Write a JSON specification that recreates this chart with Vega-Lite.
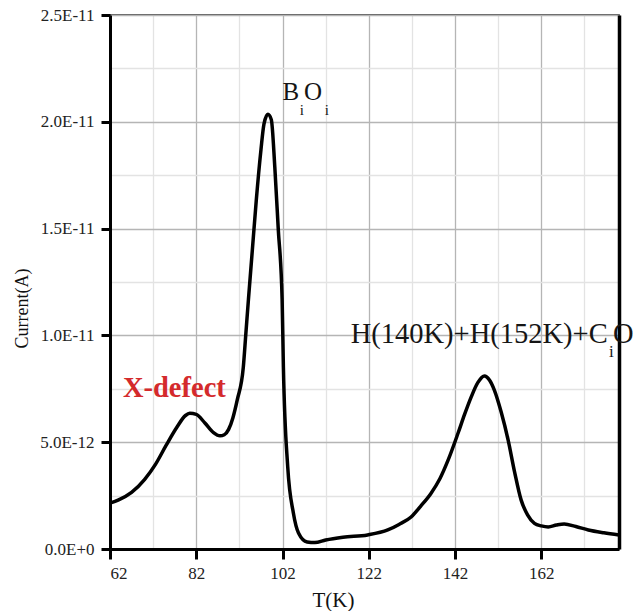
{
  "$schema": "https://vega.github.io/schema/vega-lite/v6.json",
  "width": 509,
  "height": 534,
  "autosize": {"type": "none"},
  "padding": {"left": 110, "top": 15, "right": 14, "bottom": 62},
  "background": "white",
  "config": {
    "view": {"stroke": "#222", "strokeWidth": 1.6},
    "font": "Liberation Serif",
    "axis": {
      "labelFont": "Liberation Serif",
      "titleFont": "Liberation Serif",
      "labelColor": "#222",
      "titleColor": "#111",
      "titleFontWeight": "normal",
      "domainColor": "#000",
      "domainWidth": 3,
      "tickColor": "#000",
      "tickWidth": 3,
      "gridWidth": 1.3
    }
  },
  "datasets": {
    "tsc": [
      {"T": 62, "I": 2.15e-12}, {"T": 64, "I": 2.3e-12}, {"T": 67, "I": 2.65e-12},
      {"T": 70, "I": 3.25e-12}, {"T": 72.5, "I": 3.95e-12}, {"T": 75, "I": 4.85e-12},
      {"T": 77.5, "I": 5.7e-12}, {"T": 79.5, "I": 6.25e-12}, {"T": 80.5, "I": 6.35e-12},
      {"T": 82, "I": 6.3e-12}, {"T": 84, "I": 5.9e-12}, {"T": 86, "I": 5.45e-12},
      {"T": 87.5, "I": 5.3e-12}, {"T": 88.5, "I": 5.35e-12}, {"T": 89.5, "I": 5.6e-12},
      {"T": 90.5, "I": 6.15e-12}, {"T": 91.5, "I": 6.98e-12}, {"T": 92.9, "I": 8.5e-12},
      {"T": 93.5, "I": 10.1e-12}, {"T": 94.1, "I": 11.7e-12}, {"T": 95.0, "I": 14.0e-12},
      {"T": 95.9, "I": 16.3e-12}, {"T": 97.0, "I": 18.7e-12}, {"T": 97.7, "I": 19.9e-12},
      {"T": 98.6, "I": 20.35e-12}, {"T": 99.4, "I": 20.1e-12}, {"T": 100.2, "I": 17.9e-12},
      {"T": 101.0, "I": 15.0e-12}, {"T": 101.9, "I": 11.7e-12}, {"T": 102.2, "I": 8.5e-12},
      {"T": 103.2, "I": 3.85e-12}, {"T": 104.5, "I": 1.7e-12}, {"T": 105.7, "I": 0.75e-12},
      {"T": 107.7, "I": 0.33e-12}, {"T": 109.5, "I": 0.3e-12}, {"T": 112, "I": 0.42e-12},
      {"T": 116, "I": 0.55e-12}, {"T": 121.7, "I": 0.66e-12}, {"T": 126.4, "I": 0.89e-12},
      {"T": 129, "I": 1.15e-12}, {"T": 131.8, "I": 1.5e-12}, {"T": 134, "I": 2.0e-12},
      {"T": 136.4, "I": 2.6e-12}, {"T": 138.5, "I": 3.3e-12}, {"T": 140.4, "I": 4.17e-12},
      {"T": 142.7, "I": 5.43e-12}, {"T": 144.2, "I": 6.3e-12}, {"T": 145.7, "I": 7.1e-12},
      {"T": 147.3, "I": 7.8e-12}, {"T": 148.8, "I": 8.1e-12}, {"T": 150, "I": 7.9e-12},
      {"T": 151.1, "I": 7.44e-12}, {"T": 152.7, "I": 6.4e-12}, {"T": 154.3, "I": 5.1e-12},
      {"T": 155.8, "I": 3.6e-12}, {"T": 157.3, "I": 2.3e-12}, {"T": 158.8, "I": 1.6e-12},
      {"T": 160.4, "I": 1.2e-12}, {"T": 162, "I": 1.08e-12}, {"T": 163.6, "I": 1.03e-12},
      {"T": 165.5, "I": 1.12e-12}, {"T": 167.3, "I": 1.17e-12}, {"T": 170, "I": 1.05e-12},
      {"T": 172.9, "I": 0.89e-12}, {"T": 176.5, "I": 0.76e-12}, {"T": 180, "I": 0.66e-12}
    ],
    "notes": [
      {"T": 102.0, "I": 21.02e-12, "text": "B", "label": "BiOi", "part": "base"},
      {"T": 106.0, "I": 20.3e-12, "text": "i", "label": "BiOi", "part": "sub"},
      {"T": 107.0, "I": 21.02e-12, "text": "O", "label": "BiOi", "part": "base"},
      {"T": 111.8, "I": 20.3e-12, "text": "i", "label": "BiOi", "part": "sub"},
      {"T": 117.8, "I": 9.64e-12, "text": "H(140K)+H(152K)+C", "label": "H", "part": "base"},
      {"T": 177.7, "I": 8.99e-12, "text": "i", "label": "H", "part": "sub"},
      {"T": 178.6, "I": 9.64e-12, "text": "O", "label": "H", "part": "base"}
    ],
    "defect": [
      {"T": 65.0, "I": 7.12e-12, "text": "X-defect"}
    ]
  },
  "resolve": {"axis": {"y": "independent", "x": "independent"}},
  "layer": [
    {
      "data": {"name": "tsc"},
      "mark": {"type": "line", "color": "#000", "strokeWidth": 3.5, "interpolate": "monotone", "strokeJoin": "round"},
      "encoding": {
        "x": {
          "field": "T", "type": "quantitative",
          "scale": {"domain": [62, 180], "nice": false, "zero": false},
          "axis": {
            "values": [62, 72, 82, 92, 102, 112, 122, 132, 142, 152, 162, 172],
            "labelExpr": "(datum.value - 62) % 20 == 0 ? datum.label : ''",
            "format": "d",
            "labelFont": "Liberation Serif",
            "labelFontSize": 17,
            "labelPadding": 6,
            "tickSize": {"condition": {"test": "(datum.value - 62) % 20 != 0", "value": 0}, "value": 10},
            "gridColor": {"condition": {"test": "(datum.value - 62) % 20 != 0", "value": "#e3e3e3"}, "value": "#b5b5b5"},
            "title": "T(K)",
            "titleFont": "Liberation Serif",
            "titleFontSize": 21,
            "titleX": 223,
            "titleY": 57,
            "titleAlign": "center",
            "titleBaseline": "alphabetic"
          }
        },
        "y": {
          "field": "I", "type": "quantitative",
          "scale": {"domain": [0, 2.5e-11], "nice": false},
          "axis": {
            "values": [0, 2.5e-12, 5e-12, 7.5e-12, 1e-11, 1.25e-11, 1.5e-11, 1.75e-11, 2e-11, 2.25e-11, 2.5e-11],
            "labelExpr": "round(datum.value * 4e11) % 2 == 1 ? '' : upper(format(datum.value, '.1e'))",
            "labelFont": "Liberation Serif",
            "labelFontSize": 17,
            "labelPadding": 7,
            "tickSize": {"condition": {"test": "round(datum.value * 4e11) % 2 == 1", "value": 0}, "value": 9},
            "gridColor": {"condition": {"test": "round(datum.value * 4e11) % 2 == 1", "value": "#e3e3e3"}, "value": "#b5b5b5"},
            "title": "Current(A)",
            "titleFont": "Liberation Serif",
            "titleFontSize": 18,
            "titleAngle": 270,
            "titleX": -88,
            "titleY": 293,
            "titleAlign": "center",
            "titleBaseline": "middle"
          }
        }
      }
    },
    {
      "data": {"name": "notes"},
      "transform": [{"filter": "datum.part == 'base' && datum.label == 'H'"}],
      "mark": {"type": "text", "align": "left", "baseline": "alphabetic", "font": "Liberation Serif", "fontSize": 28.5, "color": "#151515"},
      "encoding": {
        "x": {"field": "T", "type": "quantitative", "axis": null},
        "y": {"field": "I", "type": "quantitative", "axis": {"orient": "right", "labels": false, "ticks": false, "grid": false, "title": null, "domainWidth": 3.5}},
        "text": {"field": "text"}
      }
    },
    {
      "data": {"name": "notes"},
      "transform": [{"filter": "datum.part == 'sub' && datum.label == 'H'"}],
      "mark": {"type": "text", "align": "left", "baseline": "alphabetic", "font": "Liberation Serif", "fontSize": 17, "color": "#151515"},
      "encoding": {
        "x": {"field": "T", "type": "quantitative", "axis": null},
        "y": {"field": "I", "type": "quantitative", "axis": null},
        "text": {"field": "text"}
      }
    },
    {
      "data": {"name": "notes"},
      "transform": [{"filter": "datum.part == 'base' && datum.label == 'BiOi'"}],
      "mark": {"type": "text", "align": "left", "baseline": "alphabetic", "font": "Liberation Serif", "fontSize": 25, "color": "#151515"},
      "encoding": {
        "x": {"field": "T", "type": "quantitative", "axis": null},
        "y": {"field": "I", "type": "quantitative", "axis": null},
        "text": {"field": "text"}
      }
    },
    {
      "data": {"name": "notes"},
      "transform": [{"filter": "datum.part == 'sub' && datum.label == 'BiOi'"}],
      "mark": {"type": "text", "align": "left", "baseline": "alphabetic", "font": "Liberation Serif", "fontSize": 15, "color": "#151515"},
      "encoding": {
        "x": {"field": "T", "type": "quantitative", "axis": null},
        "y": {"field": "I", "type": "quantitative", "axis": null},
        "text": {"field": "text"}
      }
    },
    {
      "data": {"name": "defect"},
      "mark": {"type": "text", "align": "left", "baseline": "alphabetic", "font": "Liberation Serif", "fontSize": 28.5, "fontWeight": "bold", "color": "#d42a2c"},
      "encoding": {
        "x": {"field": "T", "type": "quantitative", "axis": null},
        "y": {"field": "I", "type": "quantitative", "axis": null},
        "text": {"field": "text"}
      }
    }
  ]
}
